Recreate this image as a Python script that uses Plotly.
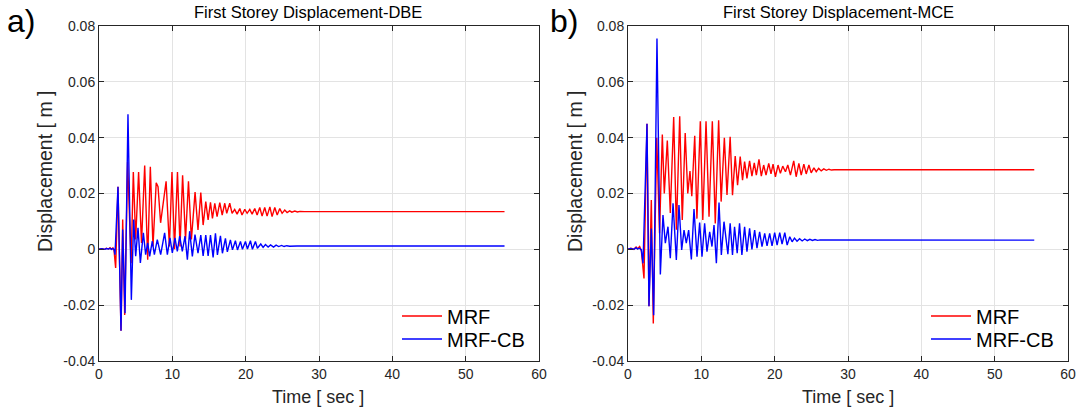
import plotly.graph_objects as go

# ---------------- DATA ----------------
# Panel a) First Storey Displacement - DBE
dbe_mrf_t = [0, 0.4, 0.8, 1.0, 1.3, 1.5, 1.7, 1.9, 2.05, 2.27, 2.59, 3.0, 3.23, 3.5, 3.9, 4.38,
             4.68, 5.0, 5.4, 5.8, 6.23, 6.64, 7.0, 7.36, 7.8, 8.05, 8.4, 9.15, 9.6, 9.95, 10.3,
             10.7, 11.05, 11.4, 11.8, 12.2, 12.6, 13.1, 13.5, 13.88, 14.2, 14.56, 14.88, 15.2,
             15.47, 15.79, 16.1, 16.47, 16.8, 17.15, 17.42, 17.83, 18.15, 18.5, 18.83, 19.2,
             19.5, 19.88, 20.2, 20.56, 20.88, 21.24, 21.56, 21.92, 22.24, 22.6, 22.92, 23.3,
             23.6, 23.97, 24.3, 24.65, 24.97, 25.33, 25.65, 26.0, 26.3, 26.7, 27.06, 27.4,
             28.0, 55.3]
dbe_mrf_v = [0, 0.0002, 0.0, 0.0004, 0.0001, 0.0006, 0.0, 0.0005, -0.0003, -0.0067, 0.0224,
             -0.0292, 0.0107, -0.0235, 0.0314, -0.005, 0.0277, 0.0035, 0.0277, 0.0023, 0.0300,
             -0.0037, 0.0296, 0.0010, 0.0238, 0.0224, 0.0095, 0.0244, 0.0010, 0.0277, 0.0000,
             0.0277, 0.0010, 0.0265, 0.0035, 0.0244, 0.0035, 0.0205, 0.0069, 0.0203, 0.0087,
             0.0171, 0.0105, 0.0168, 0.0111, 0.0165, 0.0117, 0.0167, 0.0123, 0.0165, 0.0129,
             0.0165, 0.0129, 0.0143, 0.0126, 0.0146, 0.0123, 0.0143, 0.0129, 0.0143, 0.0126,
             0.0146, 0.0123, 0.0150, 0.0119, 0.0150, 0.0119, 0.0152, 0.0117, 0.0150, 0.0123,
             0.0146, 0.0129, 0.0141, 0.0132, 0.0138, 0.0133, 0.0137, 0.0134, 0.0136, 0.0135,
             0.0135]

dbe_cb_t = [0, 0.4, 0.8, 1.0, 1.3, 1.5, 1.7, 1.9, 2.05, 2.18, 2.59, 3.0, 3.23, 3.55, 3.95, 4.41,
            4.73, 5.0, 5.32, 5.64, 6.05, 6.36, 6.64, 6.91, 7.27, 7.55, 7.95, 8.41, 8.95, 9.32,
            9.68, 10.0, 10.36, 10.68, 11.0, 11.36, 11.73, 12.05, 12.36, 12.73, 13.09, 13.5,
            13.88, 14.2, 14.56, 14.88, 15.2, 15.56, 15.88, 16.15, 16.56, 16.83, 17.24, 17.5,
            17.92, 18.2, 18.6, 18.88, 19.29, 19.56, 19.97, 20.24, 20.65, 20.92, 21.33, 21.6,
            22.06, 22.38, 22.7, 23.06, 23.4, 23.8, 24.15, 24.5, 24.9, 25.24, 25.6, 26.0, 27.0,
            55.3]
dbe_cb_v = [0, 0.0002, 0.0, 0.0003, 0.0001, 0.0004, 0.0, 0.0003, 0.0, -0.0019, 0.0224, -0.0292,
            0.0071, -0.0229, 0.0484, -0.0181, 0.0107, -0.0025, 0.0077, -0.0049, 0.0059, -0.0019,
            0.0023, -0.0025, 0.0029, -0.0019, 0.0035, -0.0019, 0.0059, -0.0019, 0.0041, -0.0013,
            0.0041, -0.0007, 0.0047, -0.0007, 0.0047, -0.0037, 0.0065, -0.0025, 0.0053, -0.0014,
            0.0051, -0.0024, 0.0051, -0.0024, 0.0051, -0.0029, 0.0057, -0.0020, 0.0048, -0.0014,
            0.0039, -0.0009, 0.0034, -0.0002, 0.0031, -0.0002, 0.0028, 0.0000, 0.0028, 0.0001,
            0.0031, 0.0000, 0.0028, 0.0004, 0.0019, 0.0007, 0.0017, 0.0008, 0.0016, 0.0008,
            0.0015, 0.0010, 0.0014, 0.0010, 0.0013, 0.0011, 0.0012, 0.0012]

# Panel b) First Storey Displacement - MCE
mce_mrf_t = [0, 0.4, 0.8, 1.1, 1.3, 1.59, 1.82, 2.18, 2.59, 2.86, 3.18, 3.45, 3.92, 4.3, 4.68,
             4.95, 5.36, 5.77, 6.23, 6.6, 7.05, 7.4, 7.8, 8.15, 8.45, 8.7, 9.1, 9.4, 9.86, 10.2,
             10.64, 11.05, 11.5, 11.9, 12.36, 12.7, 13.14, 13.5, 13.93, 14.25, 14.62, 14.94,
             15.3, 15.62, 15.9, 16.22, 16.58, 16.9, 17.22, 17.5, 17.86, 18.18, 18.5, 18.82,
             19.19, 19.5, 19.78, 20.1, 20.46, 20.78, 21.1, 21.47, 21.79, 22.15, 22.6, 22.93,
             23.3, 23.62, 23.98, 24.3, 24.67, 24.98, 25.35, 25.67, 26.0, 26.35, 26.7, 27.05,
             27.4, 27.75, 28.1, 55.4]
mce_mrf_v = [0, 0.0004, 0.0, 0.0008, 0.0002, 0.0010, -0.0005, -0.0104, 0.0450, -0.0204,
             0.0177, -0.0266, 0.0400, 0.0058, 0.0411, 0.0200, 0.0390, 0.0130, 0.0474, 0.0070,
             0.0477, 0.0105, 0.0417, 0.0200, 0.0280, 0.0190, 0.0407, 0.0110, 0.0459, 0.0105,
             0.0459, 0.0117, 0.0459, 0.0093, 0.0462, 0.0171, 0.0400, 0.0195, 0.0403, 0.0194,
             0.0334, 0.0230, 0.0332, 0.0248, 0.0314, 0.0254, 0.0317, 0.0262, 0.0310, 0.0266,
             0.0322, 0.0262, 0.0302, 0.0266, 0.0308, 0.0270, 0.0305, 0.0260, 0.0302, 0.0272,
             0.0298, 0.0278, 0.0302, 0.0266, 0.0317, 0.0260, 0.0308, 0.0266, 0.0305, 0.0270,
             0.0302, 0.0274, 0.0292, 0.0278, 0.0290, 0.0281, 0.0288, 0.0283, 0.0287, 0.0284,
             0.0285, 0.0285]

mce_cb_t = [0, 0.4, 0.8, 1.1, 1.3, 1.59, 1.82, 2.05, 2.59, 2.86, 3.18, 3.5, 3.95, 4.41, 4.77,
            5.09, 5.45, 5.77, 6.14, 6.59, 6.95, 7.32, 7.64, 7.95, 8.27, 8.64, 9.0, 9.41, 9.77,
            10.09, 10.45, 10.77, 11.14, 11.45, 11.73, 12.05, 12.41, 12.73, 13.09, 13.62, 13.93,
            14.25, 14.53, 14.89, 15.21, 15.53, 15.9, 16.22, 16.58, 16.9, 17.27, 17.59, 17.95,
            18.27, 18.64, 18.96, 19.32, 19.64, 20.0, 20.33, 20.69, 21.01, 21.38, 21.7, 22.06,
            22.38, 22.7, 23.05, 23.4, 23.75, 24.1, 24.45, 24.8, 25.15, 25.5, 25.85, 26.2, 55.4]
mce_cb_v = [0, 0.0003, 0.0, 0.0006, 0.0001, 0.0004, -0.0002, -0.0050, 0.0450, -0.0204, 0.0075,
            -0.0236, 0.0755, -0.0090, 0.0123, 0.0022, 0.0081, -0.0032, 0.0165, -0.0038, 0.0159,
            -0.0002, 0.0069, 0.0022, 0.0069, -0.0036, 0.0144, -0.0026, 0.0096, -0.0026, 0.0093,
            -0.0008, 0.0063, 0.0010, 0.0087, -0.0050, 0.0168, -0.0020, 0.0099, -0.0017, 0.0093,
            -0.0020, 0.0081, -0.0014, 0.0093, -0.0020, 0.0081, -0.0008, 0.0075, 0.0000, 0.0069,
            0.0004, 0.0063, 0.0010, 0.0057, 0.0012, 0.0057, 0.0012, 0.0060, 0.0015, 0.0060,
            0.0019, 0.0060, 0.0015, 0.0045, 0.0027, 0.0040, 0.0029, 0.0038, 0.0030, 0.0037,
            0.0031, 0.0036, 0.0032, 0.0035, 0.0032, 0.0034, 0.0033]

series_names = ["MRF", "MRF-CB"]
panel_titles = ["First Storey Displacement-DBE", "First Storey Displacement-MCE"]
panel_letters = ["a)", "b)"]
x_ticks = [0, 10, 20, 30, 40, 50, 60]
y_ticks = [-0.04, -0.02, 0, 0.02, 0.04, 0.06, 0.08]
y_tick_text = ["-0.04", "-0.02", "0", "0.02", "0.04", "0.06", "0.08"]
x_label = "Time [ sec ]"
y_label = "Displacement [ m ]"

# ---------------- FIGURE ----------------
W, H = 1078, 410
FONT = "Liberation Sans, Arial, Helvetica, sans-serif"
RED, BLUE = "#ff0000", "#0000ff"
AX = "#262626"
GRID = "#e3e3e3"

def px_x(p):
    return p / W

def px_y(p):
    return (H - p) / H

fig = go.Figure()

# one legend per entry so that each can be placed like the reference
legend_pos = [(397, 316), (397, 339), (926, 316), (926, 339)]
legend_ids = ["legend", "legend2", "legend3", "legend4"]

panels = [
    (dbe_mrf_t, dbe_mrf_v, dbe_cb_t, dbe_cb_v, "x", "y", 0),
    (mce_mrf_t, mce_mrf_v, mce_cb_t, mce_cb_v, "x2", "y2", 2),
]
for mt, mv, ct, cv, xa, ya, li in panels:
    fig.add_trace(go.Scatter(x=mt, y=mv, mode="lines", name=series_names[0],
                             line=dict(color=RED, width=1.4), xaxis=xa, yaxis=ya,
                             legend=legend_ids[li]))
    fig.add_trace(go.Scatter(x=ct, y=cv, mode="lines", name=series_names[1],
                             line=dict(color=BLUE, width=1.4), xaxis=xa, yaxis=ya,
                             legend=legend_ids[li + 1]))

left_box = (99, 539)
right_box = (628, 1068)
top_px, bot_px = 26, 361

common_x = dict(range=[0, 60], tickvals=x_ticks, showgrid=True, gridcolor=GRID, gridwidth=1,
                zeroline=False, showline=True, linecolor=AX, linewidth=1, mirror="allticks",
                ticks="inside", ticklen=5, tickcolor=AX, automargin=False,
                tickfont=dict(family=FONT, size=14, color=AX))
common_y = dict(range=[-0.04, 0.08], tickvals=y_ticks, ticktext=y_tick_text, showgrid=True,
                gridcolor=GRID, gridwidth=1, zeroline=False, showline=True, linecolor=AX,
                linewidth=1, mirror="allticks", ticks="inside", ticklen=5, tickcolor=AX,
                automargin=False, tickfont=dict(family=FONT, size=14, color=AX))

legend_layout = {}
for lid, (lx, ly) in zip(legend_ids, legend_pos):
    legend_layout[lid] = dict(x=px_x(lx), y=px_y(ly), xanchor="left", yanchor="middle",
                              bgcolor="rgba(255,255,255,0)", borderwidth=0, itemwidth=40,
                              font=dict(family=FONT, size=20, color="black"))

fig.update_layout(
    width=W, height=H,
    margin=dict(l=0, r=0, t=0, b=0, autoexpand=False),
    paper_bgcolor="white", plot_bgcolor="white",
    font=dict(family=FONT, color=AX),
    xaxis=dict(domain=[px_x(left_box[0]), px_x(left_box[1])], anchor="y", **common_x),
    yaxis=dict(domain=[px_y(bot_px), px_y(top_px)], anchor="x", **common_y),
    xaxis2=dict(domain=[px_x(right_box[0]), px_x(right_box[1])], anchor="y2", **common_x),
    yaxis2=dict(domain=[px_y(bot_px), px_y(top_px)], anchor="x2", **common_y),
    showlegend=True,
    **legend_layout,
)

annotations = []
title_x = [308, 838]
xlab_x = [318, 848]
letter_x = [5, 548]
ylab_x = [45, 575]
for i in range(2):
    annotations.append(dict(text=panel_titles[i], x=px_x(title_x[i]), y=px_y(12),
                            xref="paper", yref="paper", showarrow=False,
                            xanchor="center", yanchor="middle",
                            font=dict(family=FONT, size=16.5, color="black")))
    annotations.append(dict(text=panel_letters[i], x=px_x(letter_x[i]), y=px_y(21),
                            xref="paper", yref="paper", showarrow=False,
                            xanchor="left", yanchor="middle",
                            font=dict(family=FONT, size=32, color="black")))
    annotations.append(dict(text=x_label, x=px_x(xlab_x[i]), y=px_y(397),
                            xref="paper", yref="paper", showarrow=False,
                            xanchor="center", yanchor="middle",
                            font=dict(family=FONT, size=18, color=AX)))
    annotations.append(dict(text=y_label, x=px_x(ylab_x[i]), y=px_y(172),
                            xref="paper", yref="paper", showarrow=False, textangle=-90,
                            xanchor="center", yanchor="middle",
                            font=dict(family=FONT, size=19.5, color=AX)))
fig.update_layout(annotations=annotations)

fig.write_html("out.html", config={"displayModeBar": False},
               post_script="document.body.style.margin='0';")
